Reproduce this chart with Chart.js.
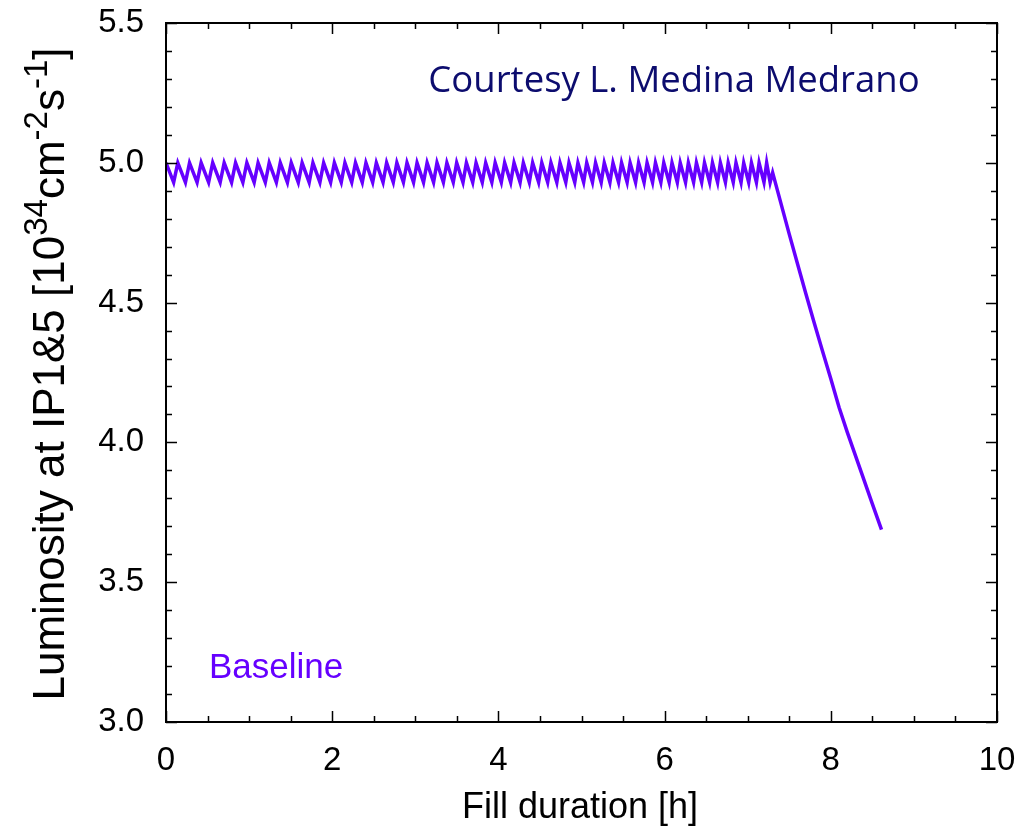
<!DOCTYPE html>
<html>
<head>
<meta charset="utf-8">
<script src="https://cdn.jsdelivr.net/npm/chart.js@4.4.0/dist/chart.umd.min.js"></script>
<style>
  html, body { margin: 0; padding: 0; background: #ffffff; }
  #wrap { width: 1029px; height: 832px; position: relative; }
</style>
</head>
<body>
<div id="wrap"><canvas id="lumiChart" width="1029" height="832"></canvas></div>
<script>
// Levelling sawtooth: times [h] where luminosity is restored, and where it bottoms out
const peakTimes = [0.000, 0.142, 0.283, 0.423, 0.562, 0.700, 0.837, 0.973, 1.108, 1.242,
    1.375, 1.507, 1.638, 1.768, 1.897, 2.026, 2.153, 2.280, 2.406, 2.531,
    2.655, 2.778, 2.900, 3.021, 3.142, 3.261, 3.380, 3.498, 3.615, 3.731,
    3.847, 3.961, 4.075, 4.188, 4.300, 4.412, 4.522, 4.632, 4.741, 4.849,
    4.957, 5.063, 5.169, 5.274, 5.379, 5.482, 5.585, 5.687, 5.789, 5.890,
    5.990, 6.089, 6.188, 6.286, 6.383, 6.480, 6.576, 6.671, 6.765, 6.859,
    6.952, 7.045, 7.137, 7.228];
const troughTimes = [0.092, 0.234, 0.374, 0.513, 0.652, 0.789, 0.925, 1.061, 1.195, 1.328,
    1.461, 1.592, 1.723, 1.852, 1.981, 2.109, 2.235, 2.362, 2.487, 2.612,
    2.735, 2.857, 2.979, 3.099, 3.220, 3.338, 3.457, 3.574, 3.691, 3.806,
    3.921, 4.035, 4.148, 4.261, 4.372, 4.484, 4.593, 4.703, 4.811, 4.919,
    5.026, 5.132, 5.237, 5.342, 5.446, 5.549, 5.651, 5.753, 5.855, 5.955,
    6.055, 6.153, 6.252, 6.349, 6.446, 6.542, 6.638, 6.732, 6.826, 6.920,
    7.012, 7.105, 7.196, 7.270];
const peakLumi = 5.00;
const troughLumi = 4.93;

// End of levelling: free decay
const decayTimes = [7.30, 7.40, 7.50, 7.60, 7.70, 7.80, 7.90, 8.00, 8.10, 8.20, 8.30, 8.40, 8.50, 8.61];
const decayLumi = [4.965, 4.855, 4.745, 4.638, 4.532, 4.428, 4.327, 4.228, 4.125, 4.035, 3.950, 3.865, 3.780, 3.688];

// Axes
const xMin = 0, xMax = 10, xStep = 2, xMinorStep = 0.5;
const yMin = 3.0, yMax = 5.5, yStep = 0.5, yMinorStep = 0.1;

const lineColor = '#6600ff';
const navy = '#0c0c6e';
const sans = '"Liberation Sans", Arial, sans-serif';

// Build the point list
const points = [];
peakTimes.forEach((t, i) => {
    points.push({ x: t, y: peakLumi });
    points.push({ x: troughTimes[i], y: troughLumi });
});
decayTimes.forEach((t, i) => points.push({ x: t, y: decayLumi[i] }));

// Labels must not push the plot box around
function noOverflow(scale) {
    scale.paddingTop = 0;
    scale.paddingBottom = 0;
    scale.paddingLeft = 0;
    scale.paddingRight = 0;
}

// Frame, inward ticks on all four sides, titles and notes
const framePlugin = {
    id: 'frame',
    afterDraw(chart) {
        const ctx = chart.ctx;
        const a = chart.chartArea;
        const xs = chart.scales.x;
        const ys = chart.scales.y;
        ctx.save();
        ctx.strokeStyle = '#000';
        ctx.lineWidth = 1.5;
        ctx.beginPath();
        for (let v = xMin; v <= xMax + 1e-9; v += xMinorStep) {
            const px = Math.round(xs.getPixelForValue(v)) + 0.5;
            const len = Math.abs(v / xStep - Math.round(v / xStep)) < 1e-6 ? 11 : 6;
            ctx.moveTo(px, a.bottom); ctx.lineTo(px, a.bottom - len);
            ctx.moveTo(px, a.top); ctx.lineTo(px, a.top + len);
        }
        for (let v = yMin; v <= yMax + 1e-9; v += yMinorStep) {
            const py = Math.round(ys.getPixelForValue(v)) + 0.5;
            const len = Math.abs(v / yStep - Math.round(v / yStep)) < 1e-6 ? 11 : 6;
            ctx.moveTo(a.left, py); ctx.lineTo(a.left + len, py);
            ctx.moveTo(a.right, py); ctx.lineTo(a.right - len, py);
        }
        ctx.stroke();
        ctx.lineWidth = 2;
        ctx.strokeRect(a.left, a.top, a.right - a.left, a.bottom - a.top);

        // x title
        ctx.fillStyle = '#000';
        ctx.font = '36px ' + sans;
        ctx.textAlign = 'center';
        ctx.textBaseline = 'alphabetic';
        ctx.fillText('Fill duration [h]', 580, 818);

        // y title with superscripts, rotated
        const big = '44px ' + sans;
        const small = '33px ' + sans;
        const parts = [
            ['Luminosity at IP1&5 [10', big, 0],
            ['34', small, -17],
            ['cm', big, 0],
            ['-2', small, -17],
            ['s', big, 0],
            ['-1', small, -17],
            [']', big, 0]
        ];
        let total = 0;
        parts.forEach(p => { ctx.font = p[1]; total += ctx.measureText(p[0]).width; });
        ctx.translate(64, 374);
        ctx.rotate(-Math.PI / 2);
        ctx.textAlign = 'left';
        let cx = -total / 2;
        parts.forEach(p => {
            ctx.font = p[1];
            ctx.fillText(p[0], cx, p[2]);
            cx += ctx.measureText(p[0]).width;
        });
        ctx.restore();

        // notes
        ctx.save();
        ctx.font = '36.5px "Open Sans", Lato, sans-serif';
        ctx.fillStyle = navy;
        ctx.textAlign = 'center';
        ctx.textBaseline = 'alphabetic';
        ctx.fillText('Courtesy L. Medina Medrano', 674, 92);
        ctx.font = '35px ' + sans;
        ctx.fillStyle = lineColor;
        ctx.textAlign = 'left';
        ctx.fillText('Baseline', 209, 678);
        ctx.restore();
    }
};

const chart = new Chart(document.getElementById('lumiChart').getContext('2d'), {
    type: 'scatter',
    data: {
        datasets: [{
            label: 'Baseline',
            data: points,
            showLine: true,
            borderColor: lineColor,
            backgroundColor: lineColor,
            borderWidth: 3.5,
            pointRadius: 0,
            tension: 0
        }]
    },
    options: {
        responsive: false,
        animation: false,
        layout: { padding: { top: 23, right: 32, left: 0, bottom: 0 } },
        plugins: {
            legend: { display: false },
            tooltip: { enabled: false }
        },
        scales: {
            x: {
                type: 'linear',
                min: xMin,
                max: xMax,
                grid: { display: false, drawTicks: false },
                border: { display: false },
                ticks: {
                    stepSize: xStep,
                    color: '#000',
                    font: { family: sans, size: 33 },
                    padding: 19,
                    maxRotation: 0
                },
                afterFit(scale) { scale.height = 110; noOverflow(scale); }
            },
            y: {
                type: 'linear',
                min: yMin,
                max: yMax,
                grid: { display: false, drawTicks: false },
                border: { display: false },
                ticks: {
                    stepSize: yStep,
                    color: '#000',
                    font: { family: sans, size: 33 },
                    padding: 22,
                    callback: v => v.toFixed(1)
                },
                afterFit(scale) { scale.width = 166; noOverflow(scale); }
            }
        }
    },
    plugins: [framePlugin]
});
</script>
</body>
</html>
